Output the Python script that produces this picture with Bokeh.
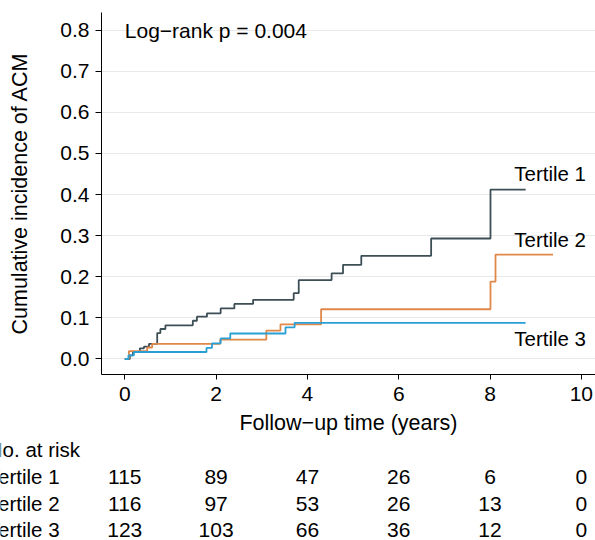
from bokeh.plotting import figure
from bokeh.layouts import column
from bokeh.models import Label, ColumnDataSource, FixedTicker, Range1d, CustomJSTickFormatter
from bokeh.core.properties import value
from bokeh.embed import file_html
from bokeh.resources import INLINE

# ---------------- data ----------------
x_ticks = [0, 2, 4, 6, 8, 10]
y_ticks = [0.0, 0.1, 0.2, 0.3, 0.4, 0.5, 0.6, 0.7, 0.8]

groups = ["Tertile 1", "Tertile 2", "Tertile 3"]

t1_time = [0, 0.11, 0.18, 0.33, 0.42, 0.53, 0.71, 0.78, 0.89, 1.49, 1.58, 1.80,
           2.10, 2.40, 2.81, 3.70, 3.81, 4.53, 4.78, 5.18, 6.71, 8.01, 8.78]
t1_cum = [0, 0.009, 0.017, 0.026, 0.030, 0.037, 0.063, 0.073, 0.082, 0.093, 0.103, 0.111,
          0.123, 0.134, 0.144, 0.160, 0.192, 0.208, 0.229, 0.251, 0.293, 0.412, 0.412]

t2_time = [0, 0.09, 0.49, 0.60, 2.09, 3.10, 3.41, 4.30, 8.01, 8.12, 9.38]
t2_cum = [0, 0.019, 0.028, 0.037, 0.047, 0.069, 0.084, 0.121, 0.188, 0.254, 0.254]

t3_time = [0, 0.08, 0.20, 1.79, 1.91, 2.10, 2.31, 3.52, 3.72, 8.78]
t3_cum = [0, 0.009, 0.017, 0.027, 0.038, 0.050, 0.062, 0.077, 0.088, 0.088]

risk_header = "No. at risk"
risk_t1 = [115, 89, 47, 26, 6, 0]
risk_t2 = [116, 97, 53, 26, 13, 0]
risk_t3 = [123, 103, 66, 36, 12, 0]

pvalue_text = "Log\u2212rank p = 0.004"
x_title = "Follow\u2212up time (years)"
y_title = "Cumulative incidence of ACM"

# ---------------- styling / layout ----------------
FONT = "Liberation Sans"
COLORS = ["#3c4e56", "#e0874a", "#2a9fd4"]
W = 595

# main plot
p = figure(width=W, height=440, output_backend="svg", toolbar_location=None,
           x_range=Range1d(-0.51, 10.31), y_range=Range1d(-0.0377, 0.8426),
           min_border_left=101, min_border_right=0, min_border_top=12, min_border_bottom=66)
p.frame_align = False
p.outline_line_color = None
p.background_fill_color = "white"
p.border_fill_color = "white"

p.xgrid.visible = False
p.ygrid.grid_line_color = "#e9e9e9"
p.ygrid.grid_line_width = 1
p.ygrid.ticker = FixedTicker(ticks=y_ticks)

for ax in (p.xaxis[0], p.yaxis[0]):
    ax.axis_line_color = "black"
    ax.axis_line_width = 1
    ax.major_tick_line_color = "black"
    ax.minor_tick_line_color = None
    ax.major_tick_in = 0
    ax.major_label_text_font = FONT
    ax.major_label_text_font_size = "21px"
    ax.major_label_text_color = "black"
    ax.axis_label_text_font = FONT
    ax.axis_label_text_font_size = "21.5px"
    ax.axis_label_text_font_style = "normal"
    ax.axis_label_text_color = "black"

p.xaxis.ticker = FixedTicker(ticks=x_ticks)
p.xaxis.major_tick_out = 5
p.xaxis.major_label_standoff = 7
p.xaxis.axis_label = x_title
p.xaxis.axis_label_standoff = 7

p.yaxis.ticker = FixedTicker(ticks=y_ticks)
p.yaxis.formatter = CustomJSTickFormatter(code="return tick.toFixed(1);")
p.yaxis.major_tick_out = 6
p.yaxis.major_label_standoff = 6
p.yaxis.axis_label = y_title
p.yaxis.axis_label_standoff = 25

series = [(t1_time, t1_cum), (t2_time, t2_cum), (t3_time, t3_cum)]
for (tx, cy), c in zip(series, COLORS):
    p.step(tx, cy, mode="after", line_color=c, line_width=1.8)

# curve labels
lab_pos = [(8.53, 0.450), (8.53, 0.291), (8.53, 0.051)]
for g, (lx, ly) in zip(groups, lab_pos):
    p.add_layout(Label(x=lx, y=ly, text=g, text_font=FONT, text_font_size="20.5px",
                       text_color="black", text_baseline="middle", text_align="left"))

p.add_layout(Label(x=0, y=0.8, text=pvalue_text, text_font=FONT, text_font_size="21px",
                   text_color="black", text_baseline="middle", text_align="left"))

# number-at-risk table: same horizontal scale as the main plot, frame spans the full width
t = figure(width=W, height=100, output_backend="svg", toolbar_location=None,
           x_range=Range1d(-2.722, 10.31), y_range=Range1d(100, 0),
           min_border_left=0, min_border_right=0, min_border_top=0, min_border_bottom=0)
t.frame_align = False
t.axis.visible = False
t.grid.visible = False
t.outline_line_color = None
t.background_fill_color = "white"
t.border_fill_color = "white"

HEAD_Y = 9
ROW_Y = [36, 63, 89]
LABEL_X = -3.0

t.text(x=[LABEL_X], y=[HEAD_Y], text=[risk_header], text_font=value(FONT),
       text_font_size="20.5px", text_color="black", text_baseline="middle", text_align="left")
for g, risk, ry in zip(groups, [risk_t1, risk_t2, risk_t3], ROW_Y):
    t.text(x=[LABEL_X], y=[ry], text=[g], text_font=value(FONT),
           text_font_size="20.5px", text_color="black", text_baseline="middle", text_align="left")
    src = ColumnDataSource(dict(x=x_ticks, y=[ry] * len(x_ticks), n=[str(v) for v in risk]))
    t.text(x="x", y="y", text="n", source=src, text_font=value(FONT),
           text_font_size="21px", text_color="black", text_baseline="middle", text_align="center")

layout = column(p, t, spacing=0)
open("out.html", "w").write(file_html(layout, INLINE))
